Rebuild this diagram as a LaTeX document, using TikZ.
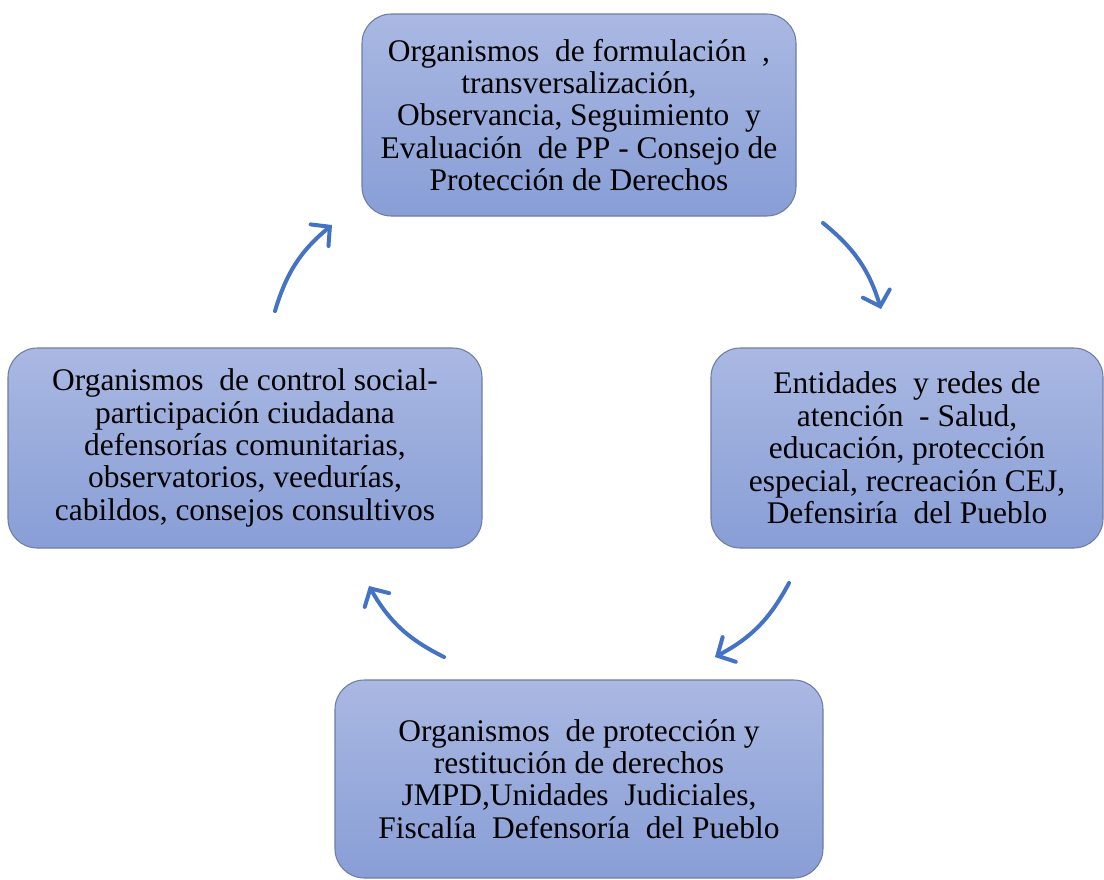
\documentclass[tikz,border=0pt]{standalone}
\usepackage{fontspec}
\setmainfont{Liberation Serif}
\usetikzlibrary{arrows.meta}
\definecolor{boxtop}{RGB}{170,184,226}
\definecolor{boxbot}{RGB}{136,158,214}
\definecolor{boxline}{RGB}{110,125,165}
\definecolor{arrowblue}{RGB}{68,114,196}
\tikzset{
  cyclebox/.style={draw=boxline, line width=0.8pt, rounded corners=22pt,
    top color=boxtop, bottom color=boxbot, align=center, inner sep=0pt,
    font=\fontsize{23.6}{24.3}\selectfont},
  cyclearrow/.style={draw=arrowblue, line width=3pt, line cap=round,
    -{Straight Barb[length=10pt,width=21pt,line cap=round]}, bend left=17}
}
\begin{document}
\begin{tikzpicture}[x=0.75pt,y=-0.75pt]
\useasboundingbox (0,0) rectangle (1104,879);
\node[cyclebox, minimum width=325.5pt, minimum height=151.5pt] (top) at (579,115)
  {Organismos\ \ de formulación\ \ ,\\ transversalización,\\ Observancia,\ Seguimiento\ \ y\\ Evaluación\ \ de PP - Consejo de\\ Protección\ de Derechos};
\node[cyclebox, minimum width=294pt, minimum height=150pt] (right) at (907,448)
  {Entidades\ \ y redes de\\ atención\ \ - Salud,\\ educación,\ protección\\ especial,\ recreación CEJ,\\ Defensiría\ \ del Pueblo};
\node[cyclebox, minimum width=355.5pt, minimum height=150pt] (left) at (245,448)
  {Organismos\ \ de control social-\\ participación\ ciudadana\\ defensorías\ comunitarias,\\ observatorios,\ veedurías,\\ cabildos,\ consejos consultivos};
\node[cyclebox, minimum width=366pt, minimum height=148.5pt] (bottom) at (579,779)
  {Organismos\ \ de protección\ y\\ restitución\ de derechos\\ JMPD,Unidades\ \ Judiciales,\\ Fiscalía\ \ Defensoría\ \ del Pueblo};
\coordinate (a1s) at (823,223);
\coordinate (a1e) at (881,309);
\coordinate (a2s) at (789,583);
\coordinate (a2e) at (715,657);
\coordinate (a3s) at (444,657);
\coordinate (a3e) at (369,586);
\coordinate (a4s) at (275,311);
\coordinate (a4e) at (332,225);
\draw[cyclearrow] (a1s) to (a1e);
\draw[cyclearrow] (a2s) to (a2e);
\draw[cyclearrow] (a3s) to (a3e);
\draw[cyclearrow] (a4s) to (a4e);
\end{tikzpicture}
\end{document}
